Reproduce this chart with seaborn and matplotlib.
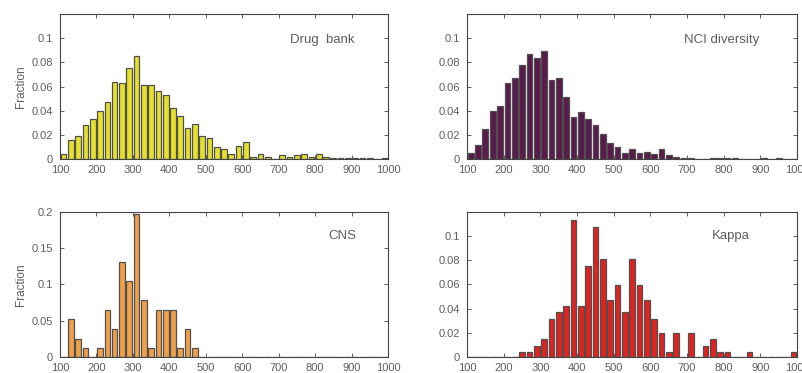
import numpy as np
import pandas as pd
import matplotlib
matplotlib.use("Agg")
import matplotlib.pyplot as plt
import seaborn as sns

# Bin centres (width 20) shared by every panel
centers = list(range(110, 1000, 20))

drug_bank = [0.004, 0.016, 0.019, 0.028, 0.033, 0.040, 0.047, 0.064, 0.063, 0.075,
             0.085, 0.061, 0.061, 0.056, 0.053, 0.042, 0.036, 0.026, 0.029, 0.019,
             0.017, 0.010, 0.008, 0.004, 0.011, 0.014, 0.002, 0.004, 0.002, 0.000,
             0.003, 0.002, 0.003, 0.004, 0.002, 0.004, 0.002, 0.001, 0.001, 0.0005,
             0.001, 0.001, 0.0005, 0.0003, 0.001]

nci_diversity = [0.005, 0.012, 0.025, 0.040, 0.044, 0.063, 0.067, 0.078, 0.087, 0.084,
                 0.089, 0.065, 0.067, 0.051, 0.035, 0.039, 0.033, 0.028, 0.021, 0.013,
                 0.010, 0.005, 0.008, 0.005, 0.006, 0.004, 0.008, 0.003, 0.002, 0.001,
                 0.001, 0.000, 0.000, 0.001, 0.001, 0.001, 0.0005, 0.0003, 0.000, 0.000,
                 0.0005, 0.000, 0.001, 0.000, 0.0003]

cns = [0.000, 0.052, 0.025, 0.012, 0.000, 0.012, 0.065, 0.039, 0.131, 0.105,
       0.197, 0.078, 0.012, 0.065, 0.065, 0.065, 0.012, 0.039, 0.012, 0.000,
       0.000, 0.000, 0.000, 0.000, 0.000, 0.000, 0.000, 0.000, 0.000, 0.000,
       0.000, 0.000, 0.000, 0.000, 0.000, 0.000, 0.000, 0.000, 0.000, 0.000,
       0.000, 0.000, 0.000, 0.000, 0.000]

kappa = [0.000, 0.000, 0.000, 0.000, 0.000, 0.000, 0.000, 0.004, 0.004, 0.009,
         0.015, 0.031, 0.037, 0.042, 0.113, 0.042, 0.075, 0.107, 0.081, 0.047,
         0.059, 0.037, 0.081, 0.059, 0.047, 0.031, 0.020, 0.004, 0.020, 0.000,
         0.020, 0.000, 0.009, 0.015, 0.004, 0.004, 0.000, 0.000, 0.004, 0.000,
         0.000, 0.000, 0.000, 0.000, 0.004]

x_ticks = [100, 200, 300, 400, 500, 600, 700, 800, 900, 1000]
y_ticks_small = [0, 0.02, 0.04, 0.06, 0.08, 0.1]
y_labels_small = ["0", "0.02", "0.04", "0.06", "0.08", "0.1"]
y_ticks_cns = [0, 0.05, 0.1, 0.15, 0.2]
y_labels_cns = ["0", "0.05", "0.1", "0.15", "0.2"]

sns.set_style("white")
plt.rcParams["font.family"] = ["Liberation Sans", "DejaVu Sans"]

fig = plt.figure(figsize=(8.03, 3.73), dpi=100)
edges = list(range(100, 1001, 20))
txt = "#5e5e5e"

panels = [
    (drug_bank, "Drug  bank", "#e4e02c", [0.0747, 0.5737, 0.4085, 0.3887],
     0.12, y_ticks_small, y_labels_small, True, (0.80, 0.82)),
    (nci_diversity, "NCI diversity", "#5a1a4c", [0.5816, 0.5737, 0.4110, 0.3887],
     0.12, y_ticks_small, y_labels_small, False, (0.77, 0.82)),
    (cns, "CNS", "#eea04a", [0.0747, 0.0429, 0.4085, 0.3900],
     0.2, y_ticks_cns, y_labels_cns, True, (0.86, 0.83)),
    (kappa, "Kappa", "#de2420", [0.5816, 0.0429, 0.4110, 0.3900],
     0.12, y_ticks_small, y_labels_small, False, (0.80, 0.83)),
]

for vals, name, color, rect, ymax, yt, yl, ylab, tpos in panels:
    ax = fig.add_axes(rect)
    df = pd.DataFrame({"mw": centers, "fraction": vals})
    sns.histplot(data=df, x="mw", weights="fraction", bins=edges, shrink=0.78,
                 ax=ax, color=color, alpha=1.0, edgecolor="#505050",
                 linewidth=0.9)
    ax.set_xlim(100, 1000)
    ax.set_ylim(0, ymax)
    ax.set_xticks(x_ticks)
    ax.set_xticklabels([str(v) for v in x_ticks])
    ax.set_yticks(yt)
    ax.set_yticklabels(yl)
    ax.tick_params(direction="in", length=3, width=0.6, colors="#444444",
                   labelcolor=txt, labelsize=8, top=True, right=True,
                   bottom=True, left=True)
    ax.tick_params(axis="x", pad=4)
    ax.tick_params(axis="y", pad=5)
    for s in ax.spines.values():
        s.set_visible(True)
        s.set_color("#444444")
        s.set_linewidth(0.8)
    ax.set_xlabel("")
    ax.set_ylabel("Fraction" if ylab else "", color=txt, fontsize=8.5,
                  labelpad=3)
    ax.text(tpos[0], tpos[1], name, transform=ax.transAxes, ha="center",
            va="center", color=txt, fontsize=9.5)

fig.savefig("out.png", dpi=100)
